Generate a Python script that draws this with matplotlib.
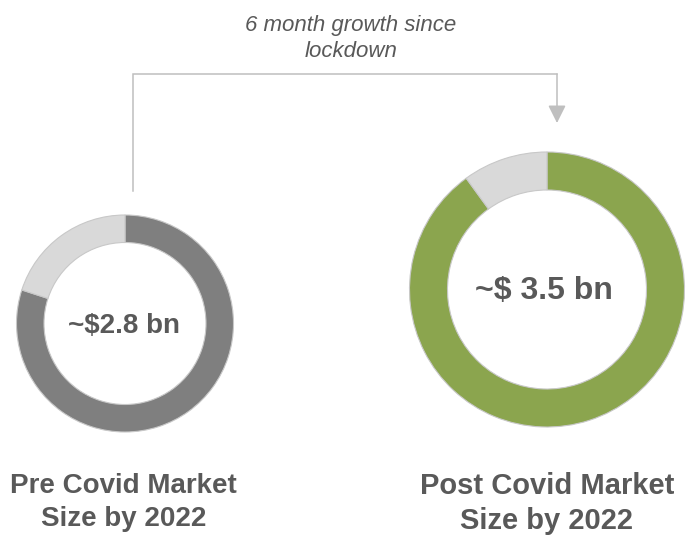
import matplotlib
matplotlib.use("Agg")
import matplotlib.pyplot as plt

# ---- data ----
categories = ["Pre Covid Market\nSize by 2022", "Post Covid Market\nSize by 2022"]
market_size_labels = ["~$2.8 bn", "~$ 3.5 bn"]
pre_shares = [80, 20]     # filled share, remainder
post_shares = [90, 10]
growth_label = "6 month growth since\nlockdown"

# ---- styles ----
W, H = 686, 535
TXT = "#595959"
LINE = "#bfbfbf"
ring_colors = [["#7f7f7f", "#d9d9d9"], ["#8ba54e", "#d9d9d9"]]
centers = [(125, H - 323.5), (547, H - 289.5)]
radii = [108.5, 137.5]
widths = [27.5, 38]
value_font = [20, 23]
value_pos = [(123.5, H - 333), (543.5, H - 299)]
cat_font = [20, 21]
cat_x = [123.5, 547]
cat_baselines = [[493, 526], [494, 529]]

fig = plt.figure(figsize=(W / 100, H / 100), dpi=100)
ax = fig.add_axes([0, 0, 1, 1])

for i, shares in enumerate([pre_shares, post_shares]):
    ax.pie(shares, colors=ring_colors[i], startangle=90, counterclock=False,
           radius=radii[i], center=centers[i], frame=True,
           wedgeprops=dict(width=widths[i], edgecolor="#c8c8c8", linewidth=0.8))
    ax.text(value_pos[i][0], value_pos[i][1], market_size_labels[i],
            ha="center", va="baseline", fontsize=value_font[i],
            fontweight="bold", color=TXT, family=["Liberation Sans", "DejaVu Sans"],
            parse_math=False)
    for j, line in enumerate(categories[i].split("\n")):
        ax.text(cat_x[i], H - cat_baselines[i][j], line, ha="center", va="baseline",
                fontsize=cat_font[i], fontweight="bold", color=TXT,
                family=["Liberation Sans", "DejaVu Sans"])

# growth title
for j, line in enumerate(growth_label.split("\n")):
    ax.text(351, H - [31, 57][j], line, ha="center", va="baseline", fontsize=16,
            style="italic", color=TXT, family=["Liberation Sans", "DejaVu Sans"])

# connector
ax.plot([132.7, 132.7, 557], [H - 191, H - 74, H - 74], color=LINE, lw=1.1,
        solid_joinstyle="miter")
ax.annotate("", xy=(557, H - 123), xytext=(557, H - 74),
            arrowprops=dict(arrowstyle="-|>,head_length=1.08,head_width=0.54",
                            color=LINE, lw=1.1, shrinkA=0, shrinkB=0))

ax.set_xlim(0, W)
ax.set_ylim(0, H)
ax.set_aspect("equal")
ax.axis("off")
fig.savefig("out.png", dpi=100, facecolor="white")
